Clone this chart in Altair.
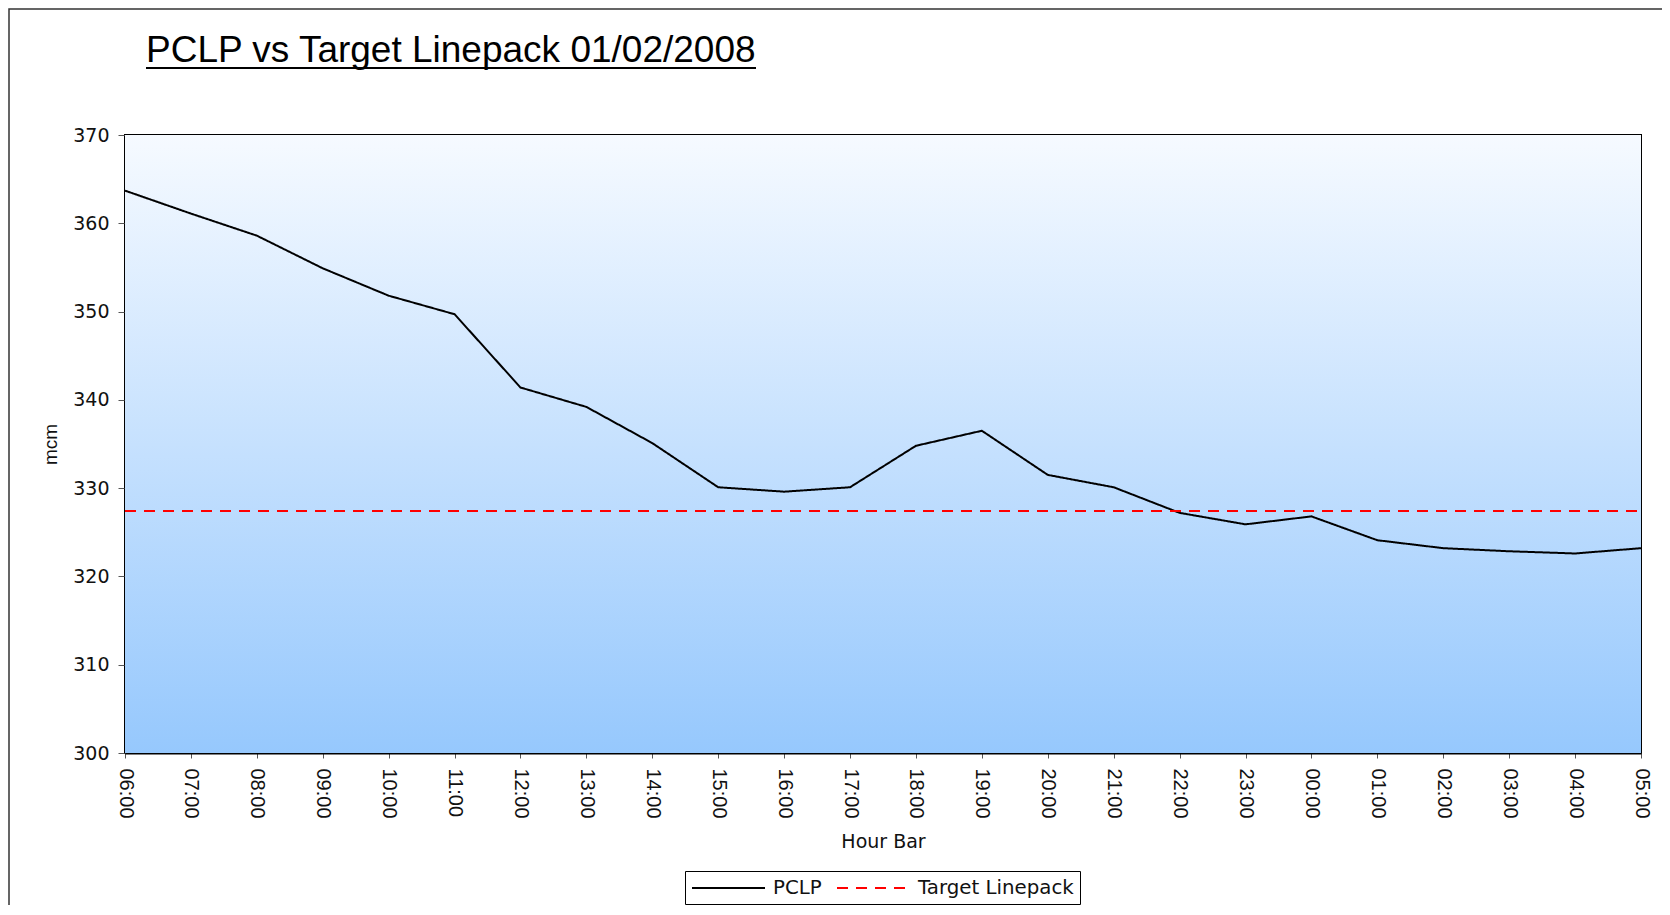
import altair as alt
import pandas as pd

hours = ["06:00", "07:00", "08:00", "09:00", "10:00", "11:00", "12:00", "13:00",
         "14:00", "15:00", "16:00", "17:00", "18:00", "19:00", "20:00", "21:00",
         "22:00", "23:00", "00:00", "01:00", "02:00", "03:00", "04:00", "05:00"]
pclp = [363.7, 361.1, 358.6, 354.9, 351.8, 349.7, 341.4, 339.2,
        335.1, 330.1, 329.6, 330.1, 334.8, 336.5, 331.5, 330.1,
        327.2, 325.9, 326.8, 324.1, 323.2, 322.85, 322.6, 323.2]
target = [327.4] * 24
series_names = ["PCLP", "Target Linepack"]
title_text = "PCLP vs Target Linepack 01/02/2008"

W, H = 1516, 618

rows = []
for i, (h, p, t) in enumerate(zip(hours, pclp, target)):
    rows.append({"idx": i, "hour": h, "series": "PCLP", "value": p})
    rows.append({"idx": i, "hour": h, "series": "Target Linepack", "value": t})
df = pd.DataFrame(rows)

one = alt.Data(values=[{"a": 1}])

frame = alt.Chart(one).mark_rect(fillOpacity=0, stroke="#333333", strokeWidth=1.5).encode(
    x=alt.value(-116), x2=alt.value(2000), y=alt.value(-126), y2=alt.value(2000)
)

background = alt.Chart(one).mark_rect(
    fill=alt.Gradient(
        gradient="linear",
        stops=[alt.GradientStop(color="#F6FAFF", offset=0),
               alt.GradientStop(color="#96C8FD", offset=1)],
        x1=0, x2=0, y1=0, y2=1,
    )
).encode(x=alt.value(0), x2=alt.value(W), y=alt.value(0), y2=alt.value(H))

legend_opts = dict(
    title=None, orient="none", legendX=560, legendY=736,
    direction="horizontal", symbolType="M-1,0H6.3",
    symbolSize=400, symbolStrokeWidth=2,
    labelFont="DejaVu Sans", labelFontSize=19.8, labelColor="#111111",
    labelOffset=60, columnPadding=11, padding=6,
    strokeColor="#000000", fillColor="#FFFFFF",
)

lines = alt.Chart(df).mark_line(strokeWidth=2).encode(
    x=alt.X("hour:N", sort=hours,
            scale=alt.Scale(type="point", padding=0),
            axis=alt.Axis(title="Hour Bar", labelAngle=90, labelFont="Liberation Sans",
                          labelFontSize=20, labelColor="#111111", labelPadding=10,
                          tickSize=5, tickColor="#555555", domainColor="#000000",
                          domainWidth=2, grid=False, titleFont="DejaVu Sans",
                          titleFontSize=19, titleFontWeight="normal", titleColor="#111111",
                          titleY=94, titleBaseline="alphabetic")),
    y=alt.Y("value:Q",
            scale=alt.Scale(domain=[300, 370], nice=False, zero=False),
            axis=alt.Axis(title="mcm", values=list(range(300, 371, 10)),
                          labelFont="DejaVu Sans", labelFontSize=19, labelColor="#111111",
                          labelPadding=9, tickSize=7, tickColor="#555555",
                          domainColor="#000000", domainWidth=2, grid=False,
                          titleFont="Liberation Sans", titleFontSize=19,
                          titleFontWeight="normal", titleColor="#111111",
                          titleX=-75, titleY=H / 2, titleBaseline="middle")),
    color=alt.Color("series:N",
                    scale=alt.Scale(domain=series_names, range=["#000000", "#FF0000"]),
                    legend=alt.Legend(**legend_opts)),
    strokeDash=alt.StrokeDash("series:N",
                              scale=alt.Scale(domain=series_names, range=[[1, 0], [11, 8]]),
                              legend=alt.Legend(**legend_opts)),
    order=alt.Order("idx:Q"),
)

title_mark = alt.Chart(alt.Data(values=[{"t": title_text}])).mark_text(
    align="left", baseline="alphabetic", font="Liberation Sans", fontSize=37, color="#000000"
).encode(x=alt.value(21), y=alt.value(-73), text="t:N")

underline = alt.Chart(one).mark_rule(color="#000000", strokeWidth=2).encode(
    x=alt.value(21), x2=alt.value(631), y=alt.value(-67)
)

chart = alt.layer(frame, background, lines, title_mark, underline).properties(
    width=W, height=H, autosize="none",
    padding={"left": 117, "top": 127, "right": 21, "bottom": 152},
).configure_view(stroke="#000000", strokeWidth=2, fill=None)

chart.save("out.html", embed_options={"renderer": "svg", "actions": False})
